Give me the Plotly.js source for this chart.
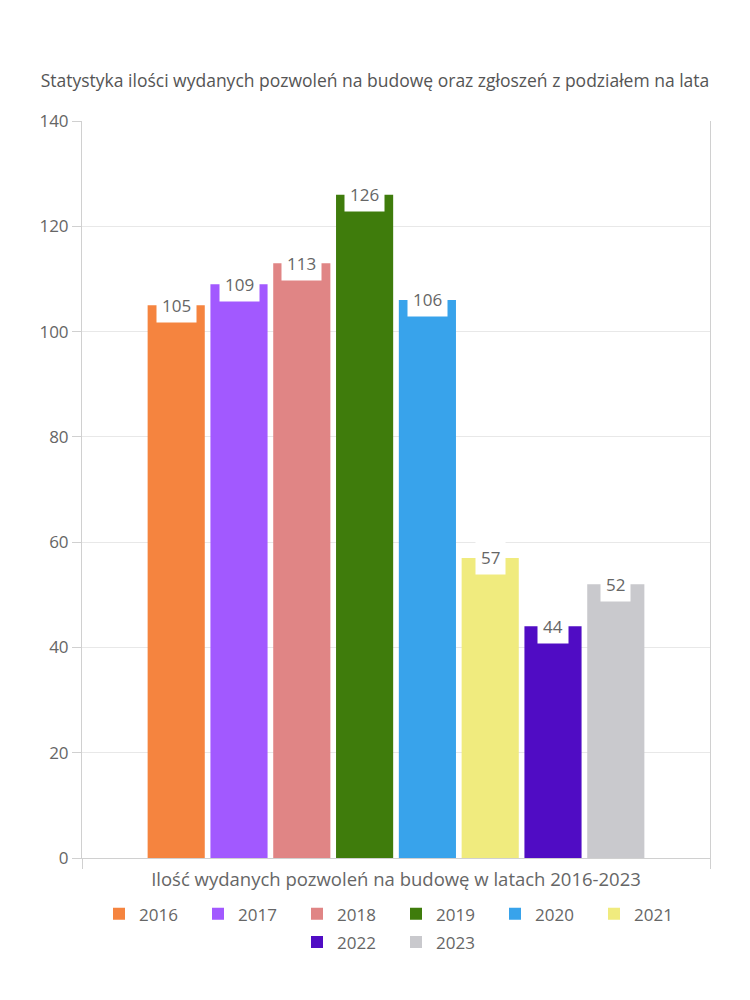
<!DOCTYPE html>
<html>
<head>
<meta charset="utf-8">
<script src="https://cdn.plot.ly/plotly-3.0.1.min.js"></script>
<style>html,body{margin:0;padding:0;background:#fff}#chart{width:750px;height:1000px}</style>
</head>
<body>
<div id="chart"></div>
<script>
const years = [2016, 2017, 2018, 2019, 2020, 2021, 2022, 2023];
const permits = [105, 109, 113, 126, 106, 57, 44, 52];
const colors = ['#F5843F', '#A259FF', '#E08585', '#3F7C0C', '#38A3EB', '#F0EB7E', '#500CC4', '#C9C9CD'];
const yTicks = [0, 20, 40, 60, 80, 100, 120, 140];

const FONT = 'Open Sans, sans-serif';
const GREY = '#666666';

const traces = years.map((yr, i) => ({
  type: 'bar',
  name: String(yr),
  x: [yr],
  y: [permits[i]],
  legend: i < 6 ? 'legend' : 'legend2',
  marker: {color: colors[i], line: {width: 0}},
  hoverinfo: 'skip'
}));

const annotations = years.map((yr, i) => ({
  xref: 'x', yref: 'y', x: yr, y: permits[i],
  text: String(permits[i]),
  showarrow: false,
  yanchor: 'middle', yshift: 0,
  bgcolor: '#ffffff', borderpad: 5,
  font: {family: FONT, size: 17, color: GREY}
}));

const legendStyle = {
  orientation: 'h', x: 0.5, xanchor: 'center', yanchor: 'top',
  font: {family: FONT, size: 17, color: GREY},
  entrywidth: 54, entrywidthmode: 'pixels',
  traceorder: 'normal', itemclick: false
};

const layout = {
  width: 750, height: 1000,
  paper_bgcolor: '#ffffff', plot_bgcolor: '#ffffff',
  margin: {l: 82, r: 40, t: 121, b: 142},
  font: {family: FONT, color: GREY},
  title: {
    text: 'Statystyka ilości wydanych pozwoleń na budowę oraz zgłoszeń z podziałem na lata',
    font: {family: FONT, size: 17.5, color: '#555555'},
    x: 0.5, xanchor: 'center', y: 0.919, yanchor: 'middle'
  },
  barmode: 'overlay',
  bargap: 0.09,
  showlegend: true,
  legend: Object.assign({}, legendStyle, {y: -0.052}),
  legend2: Object.assign({}, legendStyle, {y: -0.09}),
  xaxis: {
    type: 'linear',
    range: [years[0] - 1.5, years[years.length - 1] + 1.5],
    tickmode: 'array',
    tickvals: [years[0] - 1.5, years[years.length - 1] + 1.5],
    ticktext: ['', ''],
    ticks: 'outside', ticklen: 10, tickcolor: '#d0d0d0',
    showgrid: false, zeroline: false,
    showline: true, linecolor: '#d0d0d0', linewidth: 1, mirror: false,
    title: {
      text: 'Ilość wydanych pozwoleń na budowę w latach 2016-2023',
      font: {family: FONT, size: 18.5, color: GREY}, standoff: 2
    },
    fixedrange: true
  },
  yaxis: {
    range: [0, 140],
    tickmode: 'array', tickvals: yTicks,
    ticks: 'outside', ticklen: 9, tickcolor: '#d0d0d0',
    tickfont: {family: FONT, size: 17, color: GREY},
    showgrid: true, gridcolor: '#e8e8e8', gridwidth: 1,
    zeroline: false,
    showline: true, linecolor: '#d0d0d0', linewidth: 1, mirror: true,
    fixedrange: true
  },
  annotations: annotations
};

Plotly.newPlot('chart', traces, layout, {displayModeBar: false, staticPlot: true});
</script>
</body>
</html>
